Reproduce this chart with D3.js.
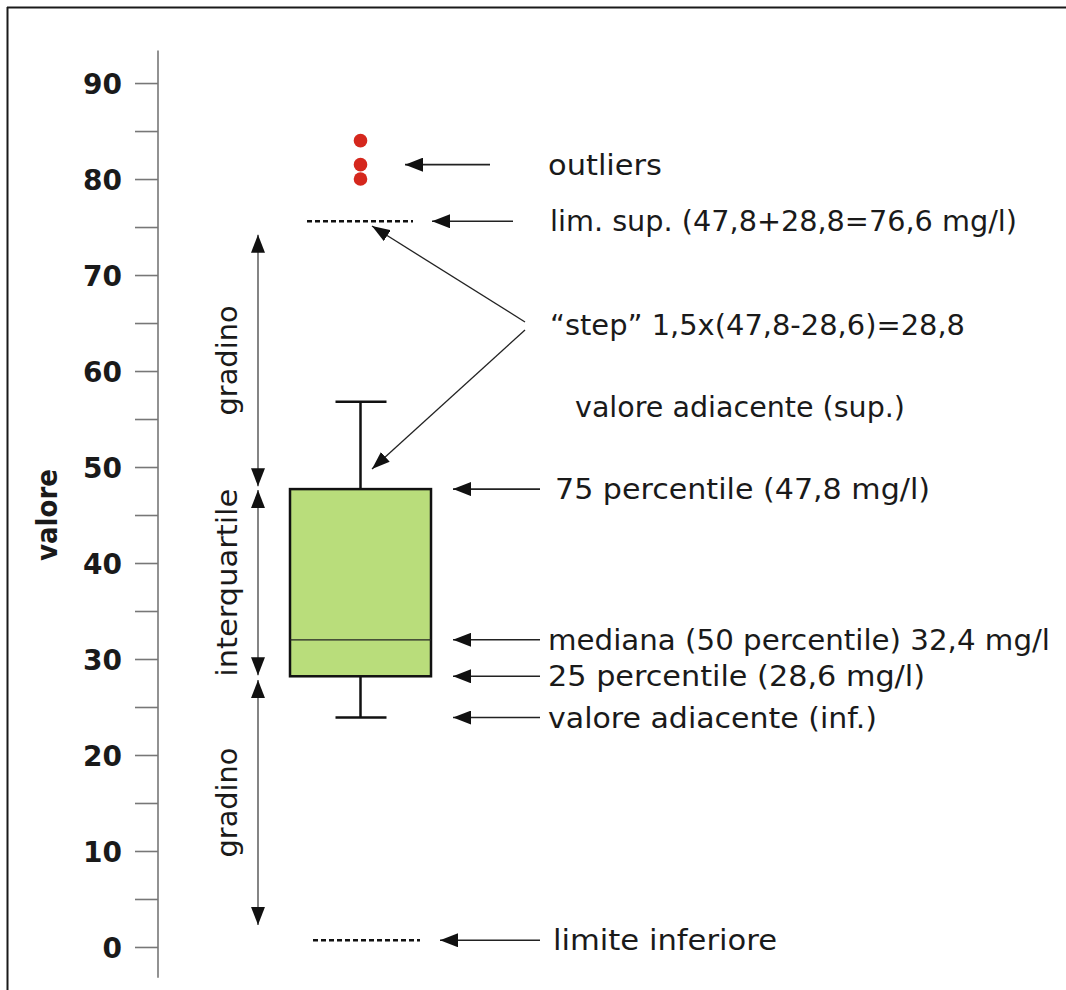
<!DOCTYPE html>
<html>
<head>
<meta charset="utf-8">
<script src="https://cdn.jsdelivr.net/npm/d3@7/dist/d3.min.js"></script>
<style>
  html, body { margin: 0; padding: 0; background: #fff; }
  svg { display: block; }
</style>
</head>
<body>
<svg id="chart" width="1066" height="990"></svg>
<script>
// ---------- data ----------
const majorTicks = [0, 10, 20, 30, 40, 50, 60, 70, 80, 90];
const minorTicks = [5, 15, 25, 35, 45, 55, 65, 75, 85];
const quartiles = [28.2, 32.0, 47.7];      // 25°, 50°, 75° percentile
const whiskers = [23.9, 56.8];             // valore adiacente inf / sup
const outliers = [80.0, 81.5, 84.0];
const fences = [0.7, 75.6];                // limite inferiore, lim. sup.
const spanStarts = [74.2, 47.6, 27.8];     // double-arrow spans (top end)
const spanEnds = [48.0, 28.3, 2.3];        // double-arrow spans (bottom end)
const spanLabels = ["gradino", "interquartile", "gradino"];
const noteTexts = [
  "outliers",
  "lim.  sup. (47,8+28,8=76,6 mg/l)",
  "\u201Cstep\u201D 1,5x(47,8-28,6)=28,8",
  "valore adiacente (sup.)",
  "75 percentile (47,8 mg/l)",
  "mediana (50 percentile) 32,4 mg/l",
  "25 percentile (28,6 mg/l)",
  "valore adiacente (inf.)",
  "limite inferiore"
];
const noteValues = [81.5, 75.6, 64.8, 56.3, 47.7, 32.0, 28.2, 23.9, 0.7];
const axisTitle = "valore";

// ---------- layout ----------
const svg = d3.select("#chart");
const FONT = "'Comic Sans MS', 'DejaVu Sans', sans-serif";
const y = d3.scaleLinear().domain([-3.2, 93.4]).range([977.7, 50.4]);
const axisX = 158;
const boxX = d3.scaleBand().domain(["box"]).range([290, 431]);
const cx = boxX("box") + boxX.bandwidth() / 2;

// frame (top and left edges)
svg.append("line").attr("x1", 7).attr("x2", 1066).attr("y1", 7.5).attr("y2", 7.5)
  .attr("stroke", "#1a1a1a").attr("stroke-width", 2);
svg.append("line").attr("x1", 7.5).attr("x2", 7.5).attr("y1", 7).attr("y2", 990)
  .attr("stroke", "#1a1a1a").attr("stroke-width", 2);

// markers
const defs = svg.append("defs");
function marker(id, len, wid, color) {
  defs.append("marker").attr("id", id)
    .attr("viewBox", `0 0 ${len} ${wid}`)
    .attr("refX", len).attr("refY", wid / 2)
    .attr("markerWidth", len).attr("markerHeight", wid)
    .attr("markerUnits", "userSpaceOnUse")
    .attr("orient", "auto-start-reverse")
    .append("path").attr("d", `M0,0 L${len},${wid / 2} L0,${wid} Z`).attr("fill", color);
}
marker("head", 18, 14, "#111");
marker("headS", 18, 13, "#111");

// axis
const axis = d3.axisLeft(y)
  .tickValues(majorTicks.concat(minorTicks).sort((a, b) => a - b))
  .tickSize(23).tickPadding(13)
  .tickFormat(d => majorTicks.includes(d) ? d : "");
const gAxis = svg.append("g").attr("transform", `translate(${axisX},0)`).call(axis);
gAxis.select(".domain").attr("stroke", "#777").attr("stroke-width", 1.6).attr("d", `M0,${y(93.4)}V${y(-3.2)}`);
gAxis.selectAll(".tick line").attr("stroke", "#777").attr("stroke-width", 1.6);
gAxis.selectAll(".tick text").attr("fill", "#1a1a1a")
  .style("font-family", "'DejaVu Sans', sans-serif").style("font-weight", "bold")
  .style("font-size", "28px").attr("dy", "0.36em");

svg.append("text").text(axisTitle)
  .attr("transform", `translate(57,${515}) rotate(-90)`)
  .attr("text-anchor", "middle")
  .attr("textLength", 92).attr("lengthAdjust", "spacingAndGlyphs")
  .style("font-family", "'DejaVu Sans', sans-serif").style("font-weight", "bold")
  .style("font-size", "29px").attr("fill", "#1a1a1a");

// double arrows + rotated labels
const spanX = 258;
const spanLabelLen = [110, 188, 110];
spanStarts.forEach((s, i) => {
  svg.append("line").attr("x1", spanX).attr("x2", spanX)
    .attr("y1", y(s)).attr("y2", y(spanEnds[i]))
    .attr("stroke", "#666").attr("stroke-width", 1.6)
    .attr("marker-start", "url(#head)").attr("marker-end", "url(#head)");
  const mid = (y(s) + y(spanEnds[i])) / 2;
  svg.append("text").text(spanLabels[i])
    .attr("transform", `translate(237,${mid}) rotate(-90)`)
    .attr("text-anchor", "middle")
    .attr("textLength", spanLabelLen[i]).attr("lengthAdjust", "spacingAndGlyphs")
    .style("font-family", FONT).style("font-size", "28px").attr("fill", "#1a1a1a");
});

// whiskers
svg.append("line").attr("x1", cx).attr("x2", cx).attr("y1", y(whiskers[1])).attr("y2", y(quartiles[2]))
  .attr("stroke", "#111").attr("stroke-width", 2.5);
svg.append("line").attr("x1", cx).attr("x2", cx).attr("y1", y(quartiles[0])).attr("y2", y(whiskers[0]))
  .attr("stroke", "#111").attr("stroke-width", 2.5);
whiskers.forEach(w => {
  svg.append("line").attr("x1", cx - 25).attr("x2", cx + 26).attr("y1", y(w)).attr("y2", y(w))
    .attr("stroke", "#111").attr("stroke-width", 2.5);
});

// box
svg.append("rect").attr("x", boxX("box")).attr("width", boxX.bandwidth())
  .attr("y", y(quartiles[2])).attr("height", y(quartiles[0]) - y(quartiles[2]))
  .attr("fill", "#b9dd7b").attr("stroke", "#111").attr("stroke-width", 2.5);
svg.append("line").attr("x1", boxX("box")).attr("x2", boxX("box") + boxX.bandwidth())
  .attr("y1", y(quartiles[1])).attr("y2", y(quartiles[1]))
  .attr("stroke", "#222").attr("stroke-width", 1.2);

// outliers
svg.selectAll(".out").data(outliers).enter().append("circle")
  .attr("cx", cx).attr("cy", d => y(d)).attr("r", 6.8).attr("fill", "#d5271d");

// fences
const fenceX = [[313, 420], [307, 413]];
fences.forEach((f, i) => {
  svg.append("line").attr("x1", fenceX[i][0]).attr("x2", fenceX[i][1])
    .attr("y1", y(f)).attr("y2", y(f))
    .attr("stroke", "#111").attr("stroke-width", 2.6).attr("stroke-dasharray", "5,3");
});

// annotation arrows (pointing left)
const arrowFrom = [490, 513, null, null, 540, 540, 540, 540, 540];
const arrowTo   = [405, 432, null, null, 453, 453, 453, 453, 440];
noteValues.forEach((v, i) => {
  if (arrowFrom[i] == null) return;
  svg.append("line").attr("x1", arrowFrom[i]).attr("x2", arrowTo[i])
    .attr("y1", y(v)).attr("y2", y(v))
    .attr("stroke", "#222").attr("stroke-width", 1.6).attr("marker-end", "url(#head)");
});

// step arrows
const stepOrigin = [525, y(noteValues[2])];
[[372, y(75.1), -3], [372, y(49.8), 5]].forEach(t => {
  svg.append("line").attr("x1", stepOrigin[0]).attr("y1", stepOrigin[1] + t[2])
    .attr("x2", t[0]).attr("y2", t[1])
    .attr("stroke", "#222").attr("stroke-width", 1.3).attr("marker-end", "url(#headS)");
});

// annotation texts
const noteX = [548, 550, 550, 575, 555, 548, 548, 548, 553];
const noteLen = [114, 467, 415, 330, 375, 502, 377, 329, 224];
noteTexts.forEach((t, i) => {
  svg.append("text").text(t)
    .attr("x", noteX[i]).attr("y", y(noteValues[i]) + 10)
    .attr("textLength", noteLen[i]).attr("lengthAdjust", "spacingAndGlyphs")
    .style("font-family", FONT).style("font-size", "28px").attr("fill", "#1a1a1a");
});
</script>
</body>
</html>
